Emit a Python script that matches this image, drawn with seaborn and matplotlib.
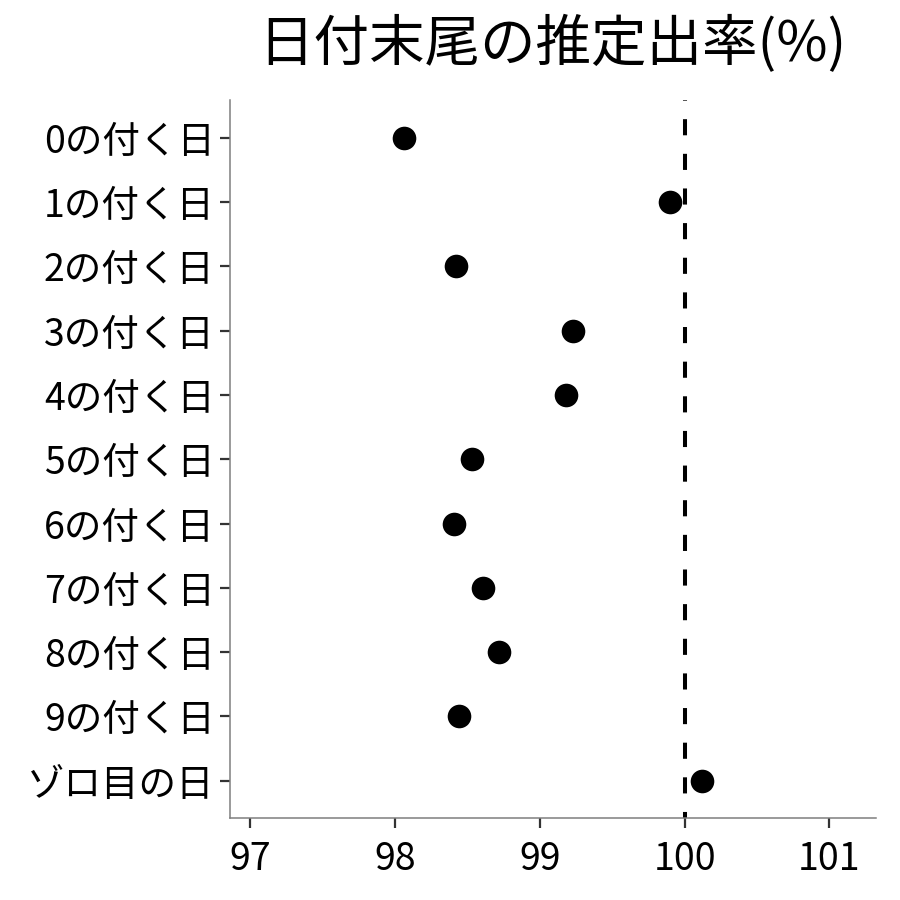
import pandas as pd
import matplotlib
matplotlib.use("Agg")
import matplotlib.pyplot as plt
import seaborn as sns

# 日付末尾ごとの推定出率
days = ["0の付く日", "1の付く日", "2の付く日", "3の付く日", "4の付く日",
        "5の付く日", "6の付く日", "7の付く日", "8の付く日", "9の付く日",
        "ゾロ目の日"]
rates = [98.06, 99.90, 98.42, 99.23, 99.18, 98.53, 98.41, 98.61, 98.72, 98.44, 100.12]
xticks = [97, 98, 99, 100, 101]

sns.set_style("white")
plt.rcParams['font.family'] = ['Noto Sans CJK JP', 'DejaVu Sans']

df = pd.DataFrame({"day": days, "rate": rates})

fig = plt.figure(figsize=(9, 9), dpi=100)
ax = fig.add_axes([0.2556, 0.0911, 0.7174, 0.7978])

sns.stripplot(data=df, x="rate", y="day", order=days, jitter=False,
              color="black", size=17, ax=ax, zorder=3)
ax.axvline(100, color="black", linestyle=(2.5, (4, 4.6)), linewidth=2.9, zorder=2)

ax.set_xlim(96.86, 101.32)
ax.set_ylim(len(days) - 0.42, -0.59)
ax.set_xticks(xticks)
ax.set_xticklabels([str(t) for t in xticks])
ax.set_xlabel("")
ax.set_ylabel("")
ax.set_title("日付末尾の推定出率(%)", fontsize=40, pad=28, color="black")

ax.tick_params(axis="both", which="both", length=7, width=1.6, color="#333333",
               labelcolor="black", pad=4, left=True, bottom=True)
ax.tick_params(axis="y", labelsize=27)
ax.tick_params(axis="x", labelsize=27, pad=9)
for side in ["top", "right"]:
    ax.spines[side].set_visible(False)
for side in ["left", "bottom"]:
    ax.spines[side].set_color("#7f7f7f")
    ax.spines[side].set_linewidth(1.1)

fig.savefig("out.png", dpi=100)
